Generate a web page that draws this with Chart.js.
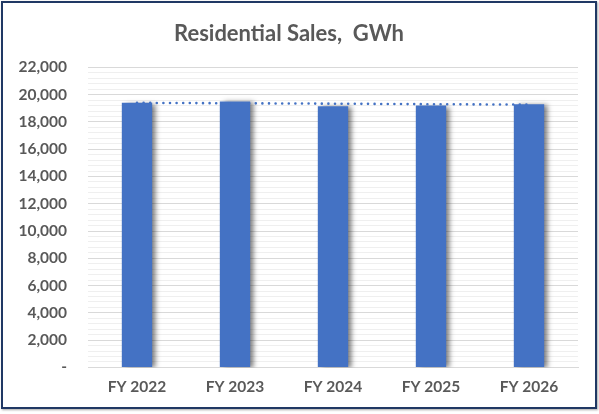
<!DOCTYPE html>
<html>
<head>
<meta charset="utf-8">
<script src="https://cdn.jsdelivr.net/npm/chart.js@4"></script>
<style>
    body { margin: 0; background: #ffffff; }
    #caixa {
        position: absolute; left: 1px; top: 1px;
        width: 592px; height: 404px;
        border: 2px solid #203864;
        box-shadow: 1px 1px 2px rgba(0,0,0,0.35);
    }
    #myChart { position: absolute; left: 0; top: 0; }
</style>
</head>
<body>
<div id="caixa"></div>
<canvas id="myChart" width="599" height="414"></canvas>
<script>
var anos = [`FY 2022`, `FY 2023`, `FY 2024`, `FY 2025`, `FY 2026`];
var vendas = [19400, 19500, 19150, 19200, 19300];
var tendencia = [19400, 19370, 19340, 19300, 19270];
var eixo_y = [0, 2000, 4000, 6000, 8000, 10000, 12000, 14000, 16000, 18000, 20000, 22000];

var cinza = '#595959';

// sombra atras das barras, igual ao excel
const sombra = {
    id: 'sombra',
    beforeDatasetDraw: function (chart, args) {
        if (args.meta.type !== 'bar') return;
        var ctx = chart.ctx;
        ctx.save();
        ctx.shadowColor = 'rgba(0,0,0,0.5)';
        ctx.shadowBlur = 5;
        ctx.shadowOffsetX = 4;
        ctx.shadowOffsetY = 1;
    },
    afterDatasetDraw: function (chart, args) {
        if (args.meta.type !== 'bar') return;
        chart.ctx.restore();
    }
};

const ctx = document.getElementById('myChart');
new Chart(ctx, {
    type: 'bar',
    data: {
        labels: anos,
        datasets: [{
            type: 'line',
            label: 'Tendencia',
            data: tendencia,
            borderColor: '#4472C4',
            borderWidth: 2.6,
            borderDash: [0, 6.6],
            borderCapStyle: 'round',
            pointRadius: 0,
            fill: false,
            order: 0
        }, {
            label: 'Residential Sales',
            data: vendas,
            backgroundColor: '#4472C4',
            categoryPercentage: 1,
            barPercentage: 0.31,
            order: 1
        }]
    },
    plugins: [sombra],
    options: {
        responsive: false,
        animation: false,
        devicePixelRatio: 1,
        layout: { padding: { left: 0, right: 21, top: 0, bottom: 8 } },
        plugins: {
            legend: { display: false },
            tooltip: { enabled: false },
            title: {
                display: true,
                text: 'Residential Sales,  GWh',
                color: cinza,
                font: { family: 'Lato', size: 22, weight: 'bold' },
                padding: { top: 21, bottom: 20 }
            }
        },
        scales: {
            x: {
                grid: { display: false, drawTicks: false },
                border: { color: '#d9d9d9', width: 1 },
                ticks: {
                    color: cinza,
                    font: { family: 'Lato', size: 15.5, weight: 'bold' },
                    padding: 10
                }
            },
            y: {
                min: 0,
                max: 22000,
                border: { display: false },
                afterFit: function (scale) { scale.width = 88; },
                afterBuildTicks: function (scale) {
                    var t = [];
                    for (var i = 0; i < eixo_y.length - 1; i++) {
                        for (var j = 0; j < 5; j++) {
                            t.push({ value: eixo_y[i] + j * (eixo_y[i + 1] - eixo_y[i]) / 5 });
                        }
                    }
                    t.push({ value: eixo_y[eixo_y.length - 1] });
                    scale.ticks = t;
                },
                grid: {
                    drawTicks: false,
                    lineWidth: 1,
                    color: function (c) {
                        if (c.tick && eixo_y.indexOf(c.tick.value) >= 0) return '#d9d9d9';
                        return '#efefef';
                    }
                },
                ticks: {
                    autoSkip: false,
                    color: cinza,
                    font: { family: 'Lato', size: 15.5, weight: 'bold' },
                    padding: 21,
                    callback: function (v) {
                        if (eixo_y.indexOf(v) < 0) return '';
                        if (v === 0) return '-';
                        return v.toLocaleString('en-US');
                    }
                }
            }
        }
    }
});
</script>
</body>
</html>
